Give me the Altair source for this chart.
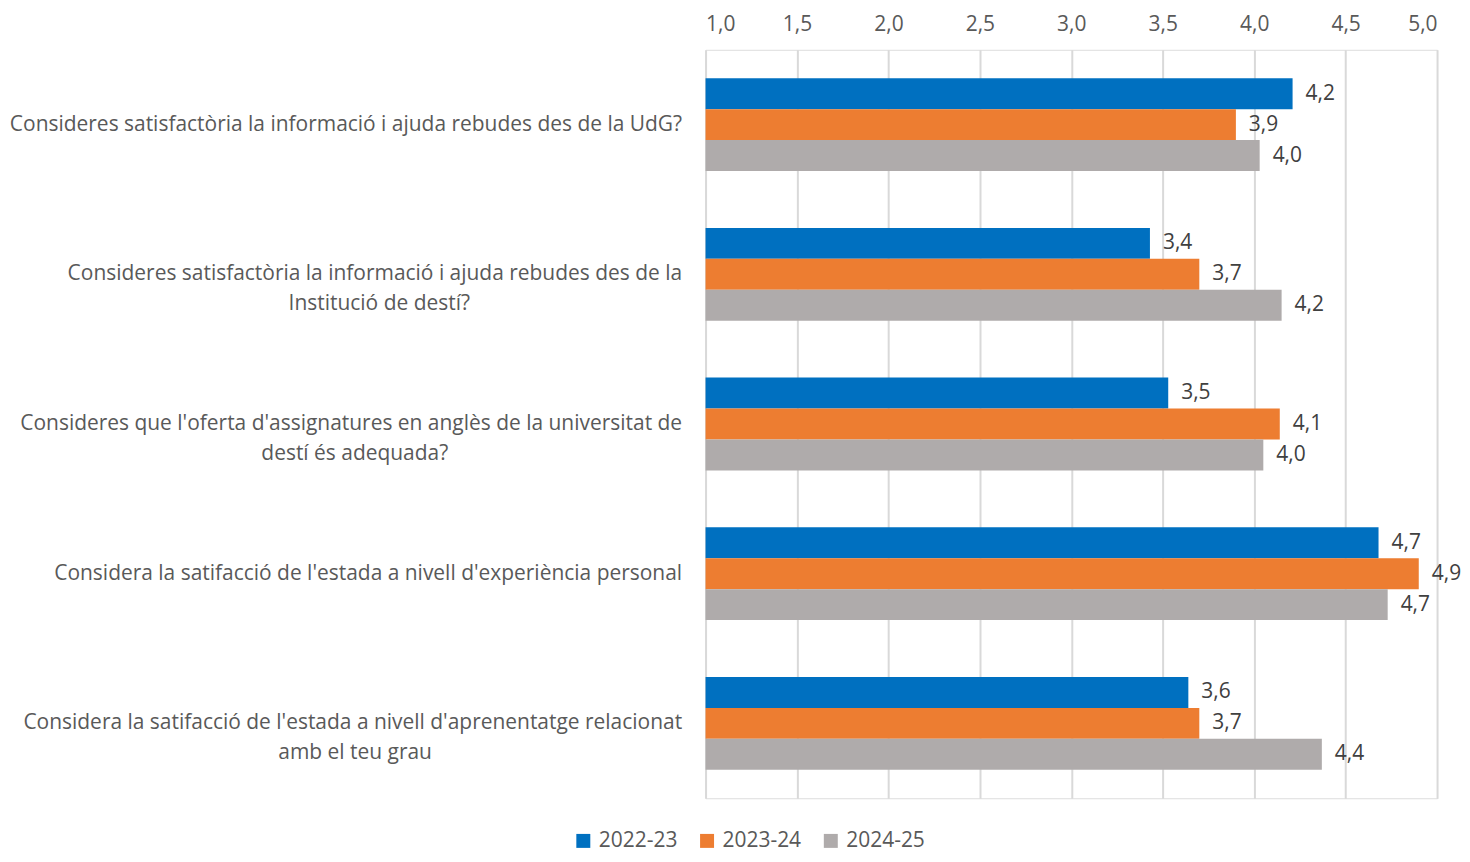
import altair as alt
import pandas as pd

questions = [
    "Consideres satisfactòria la informació i ajuda rebudes des de la UdG?",
    "Consideres satisfactòria la informació i ajuda rebudes des de la|Institució de destí?",
    "Consideres que l'oferta d'assignatures en anglès de la universitat de|destí és adequada?",
    "Considera la satifacció de l'estada a nivell d'experiència personal",
    "Considera la satifacció de l'estada a nivell d'aprenentatge relacionat|amb el teu grau",
]
# number of non-breaking spaces appended to the second line so it sits centred under the first
line2_pad = [0, 39, 43, 0, 46]
series = ["2022-23", "2023-24", "2024-25"]
v2022 = [4.21, 3.43, 3.53, 4.68, 3.64]
v2023 = [3.90, 3.70, 4.14, 4.90, 3.70]
v2024 = [4.03, 4.15, 4.05, 4.73, 4.37]
colors = ["#0070C0", "#ED7D31", "#AFABAB"]

display = [q + ("\u00a0" * p + "\u200b" if p else "") for q, p in zip(questions, line2_pad)]

rows = []
for s, vals in zip(series, [v2022, v2023, v2024]):
    for q, v in zip(display, vals):
        rows.append({"q": q, "series": s, "v": v, "base": 1.0})
df = pd.DataFrame(rows)

FONT = "Open Sans"
FS = 21

base = alt.Chart(df).encode(
    y=alt.Y("q:N", sort=display,
            scale=alt.Scale(paddingInner=0.38, paddingOuter=0.19),
            axis=alt.Axis(title=None, labelExpr="split(datum.label, '|')",
                          labelFontSize=FS, labelColor="#595959", labelFont=FONT,
                          labelLimit=900, labelPadding=24, ticks=False, domain=False,
                          labelLineHeight=30, labelAlign="right")),
    yOffset=alt.YOffset("series:N", sort=series),
)

bars = base.mark_bar().encode(
    x=alt.X("v:Q", scale=alt.Scale(domain=[1, 5], nice=False, zero=False),
            axis=alt.Axis(orient="top", title=None, values=[1, 1.5, 2, 2.5, 3, 3.5, 4, 4.5, 5],
                          labelExpr="replace(format(datum.value, '.1f'), '.', ',')",
                          labelFontSize=FS, labelColor="#595959", labelFont=FONT,
                          labelPadding=15, ticks=False, domain=False,
                          grid=True, gridColor="#D9D9D9", gridWidth=2)),
    x2=alt.X2("base:Q"),
    color=alt.Color("series:N", sort=series,
                    scale=alt.Scale(domain=series, range=colors),
                    legend=alt.Legend(orient="none", legendX=-133, legendY=782,
                                      direction="horizontal", title=None,
                                      symbolType="square", symbolSize=196,
                                      symbolStrokeWidth=0, labelOffset=5,
                                      labelFontSize=FS, labelColor="#595959", labelFont=FONT,
                                      columnPadding=19)),
)

labels = base.mark_text(align="left", baseline="middle", dx=13, fontSize=FS,
                        color="#404040", font=FONT).transform_calculate(
    lab="replace(format(datum.v, '.1f'), '.', ',')"
).encode(
    x=alt.X("v:Q"),
    text="lab:N",
)

chart = (bars + labels).properties(width=733, height=750).configure_view(
    stroke=None
).configure(padding={"left": 0, "top": 5, "right": 0, "bottom": 0})

chart.save("out.html", embed_options={"renderer": "svg", "actions": False})
